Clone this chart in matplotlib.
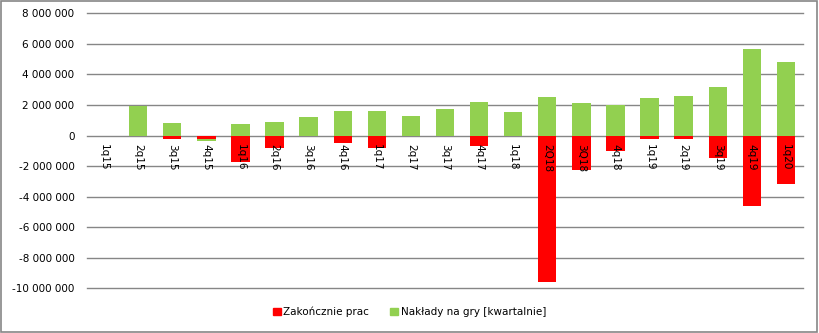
import matplotlib
matplotlib.use("Agg")
import matplotlib.pyplot as plt
from matplotlib.patches import Patch, Rectangle
from matplotlib.ticker import FuncFormatter
import numpy as np

categories = ["1q15", "2q15", "3q15", "4q15", "1q16", "2q16", "3q16", "4q16",
              "1q17", "2q17", "3q17", "4q17", "1q18", "2Q18", "3Q18", "4q18",
              "1q19", "2q19", "3q19", "4q19", "1q20"]
zakonczenie = [0, 0, -220000, -220000, -1710000, -790000, 0, -460000,
               -790000, 0, 0, -660000, 0, -9560000, -2230000, -990000,
               -200000, -200000, -1450000, -4590000, -3150000]
naklady = [0, 1950000, 820000, -130000, 760000, 890000, 1220000, 1610000,
           1610000, 1280000, 1740000, 2200000, 1540000, 2530000, 2130000, 1980000,
           2460000, 2590000, 3180000, 5670000, 4820000]
yticks = list(range(-10000000, 8000001, 2000000))

RED = "#FF0000"
GREEN = "#92D050"
GRID = "#868686"

fig = plt.figure(figsize=(8.19, 3.33), dpi=100)
ax = fig.add_axes([87 / 819, 1 - 288.3 / 333, (803 - 87) / 819, (288.3 - 13.3) / 333])

n = len(categories)
x = np.arange(n)
w = 0.54
red = np.array(zakonczenie, dtype=float)
green = np.array(naklady, dtype=float)
green_bottom = np.where((green < 0) & (red < 0), red, 0.0)

# x-axis (category labels) sits at the zero line
ax.spines["bottom"].set_position(("data", 0))
for s in ["top", "right", "left", "bottom"]:
    ax.spines[s].set_visible(False)
ax.set_axisbelow(False)

for t in yticks:
    ax.axhline(t, color=GRID, linewidth=1.0, zorder=0, clip_on=False)

ax.bar(x, red, width=w, color=RED, zorder=2)
ax.bar(x, green, width=w, bottom=green_bottom, color=GREEN, zorder=2)

ax.set_xlim(-0.5, n - 0.5)
ax.set_ylim(yticks[0], yticks[-1])
ax.set_yticks(yticks)
ax.yaxis.set_major_formatter(FuncFormatter(lambda v, p: f"{int(v):,}".replace(",", " ")))

ax.set_xticks(x)
ax.set_xticklabels(categories, rotation=-90, fontsize=7.5, va="top", ha="center")
ax.tick_params(axis="x", length=0, pad=6)
ax.tick_params(axis="y", length=0, pad=9, labelsize=7.5)

handles = [Patch(color=RED, label="Zakończnie prac"),
           Patch(color=GREEN, label="Nakłady na gry [kwartalnie]")]
fig.legend(handles=handles, loc="center", bbox_to_anchor=(0.5, 1 - 312 / 333),
           ncol=2, frameon=False, fontsize=7.5, handlelength=0.75, handleheight=0.75,
           handletextpad=0.25, columnspacing=2.0)

fig.patches.append(Rectangle((0.001, 0.002), 0.997, 0.996, transform=fig.transFigure,
                             fill=False, edgecolor=GRID, linewidth=1.2))

fig.savefig("out.png", dpi=100)
